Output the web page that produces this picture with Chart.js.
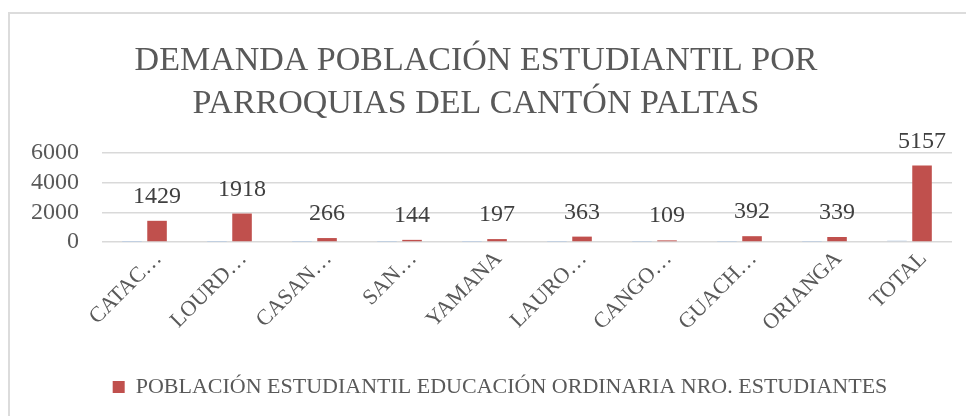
<!DOCTYPE html>
<html>
<head>
<meta charset="utf-8">
<script src="https://cdn.jsdelivr.net/npm/chart.js@4"></script>
<style>
  html, body { margin: 0; padding: 0; background: #fff; }
  #wrap { position: relative; width: 966px; height: 416px; overflow: hidden; }
  #frame {
    position: absolute; left: 8px; top: 12px; width: 1000px; height: 500px;
    border-left: 2px solid #dcdcdc; border-top: 2px solid #dcdcdc;
  }
  #chart { position: absolute; left: 0; top: 0; }
</style>
</head>
<body>
<div id="wrap">
  <div id="frame"></div>
  <canvas id="chart" width="966" height="416"></canvas>
</div>
<script>
const categories = ["CATAC…", "LOURD…", "CASAN…", "SAN…", "YAMANA", "LAURO…", "CANGO…", "GUACH…", "ORIANGA", "TOTAL"];
const nroValues = [1, 2, 3, 4, 5, 6, 7, 8, 9, 90];
const estudiantes = [1429, 1918, 266, 144, 197, 363, 109, 392, 339, 5157];
const yMax = 6000;
const yStep = 2000;

const titleLines = ["DEMANDA POBLACIÓN ESTUDIANTIL POR", "PARROQUIAS DEL CANTÓN PALTAS"];
const seriesLabel = "POBLACIÓN ESTUDIANTIL EDUCACIÓN ORDINARIA NRO. ESTUDIANTES";

const serif = "'Liberation Serif', 'DejaVu Serif', serif";
const textGrey = "#595959";

// value labels over the red bars
const valueLabels = {
  id: "valueLabels",
  afterDatasetsDraw(chart) {
    const ctx = chart.ctx;
    const meta = chart.getDatasetMeta(1);
    ctx.save();
    ctx.font = "24px " + serif;
    ctx.fillStyle = "#404040";
    ctx.textAlign = "center";
    ctx.textBaseline = "alphabetic";
    meta.data.forEach((bar, i) => {
      ctx.fillText(String(estudiantes[i]), bar.x, bar.y - 18);
    });
    ctx.restore();
  },
};

// nudge the legend a little to the right, like the original
const legendShift = {
  id: "legendShift",
  afterLayout(chart) {
    chart.legend.left += 24;
    chart.legend.right += 24;
  },
};

new Chart(document.querySelector("#chart"), {
  type: "bar",
  data: {
    labels: categories,
    datasets: [
      {
        label: "NRO.",
        data: nroValues,
        backgroundColor: "#b8cce4",
        categoryPercentage: 0.59,
        barPercentage: 0.78,
      },
      {
        label: seriesLabel,
        data: estudiantes,
        backgroundColor: "#C0504D",
        categoryPercentage: 0.59,
        barPercentage: 0.78,
      },
    ],
  },
  options: {
    responsive: false,
    animation: false,
    layout: { padding: { top: 0, left: 0, right: 14, bottom: 8 } },
    plugins: {
      title: {
        display: true,
        text: titleLines,
        color: textGrey,
        font: { family: serif, size: 34, weight: "normal", lineHeight: 1.265 },
        padding: { top: 40, bottom: 27 },
      },
      legend: {
        position: "bottom",
        labels: {
          color: textGrey,
          font: { family: serif, size: 22 },
          boxWidth: 12,
          boxHeight: 12,
          filter: (item) => item.datasetIndex === 1,
        },
      },
      tooltip: { enabled: false },
    },
    scales: {
      x: {
        grid: { display: false },
        border: { display: false },
        ticks: {
          color: textGrey,
          font: { family: serif, size: 22 },
          maxRotation: 45,
          minRotation: 45,
          autoSkip: false,
          padding: -4,
          labelOffset: 14,
        },
        afterFit: (scale) => { scale.height = 124; },
      },
      y: {
        min: 0,
        max: yMax,
        grid: { color: "#d9d9d9", lineWidth: 1.5, drawTicks: false },
        border: { display: false },
        ticks: {
          stepSize: yStep,
          autoSkip: false,
          color: textGrey,
          font: { family: serif, size: 24 },
          padding: 23,
          callback: (value) => String(value),
        },
        afterFit: (scale) => { scale.width = 102; },
      },
    },
  },
  plugins: [valueLabels, legendShift],
});
</script>
</body>
</html>
